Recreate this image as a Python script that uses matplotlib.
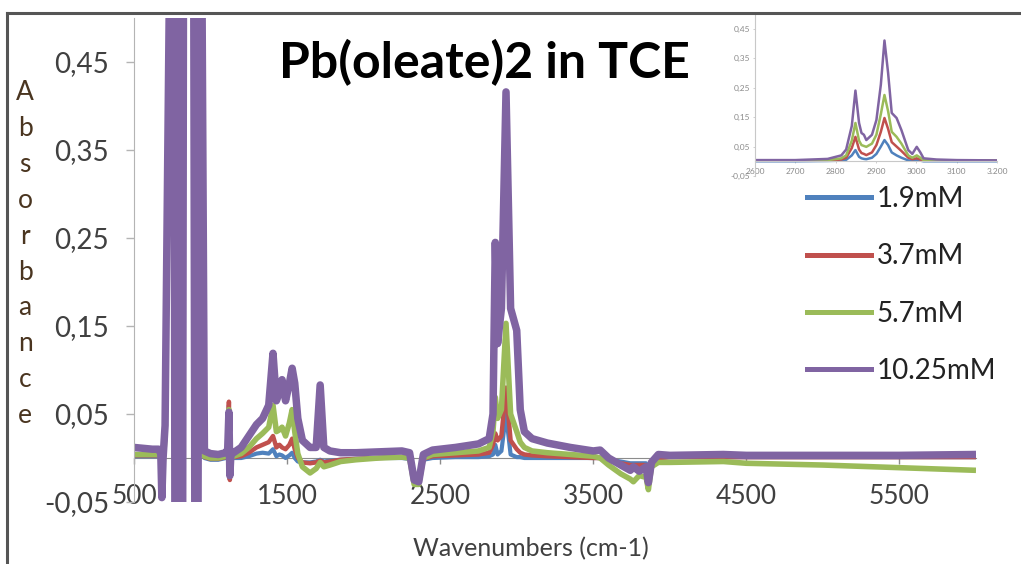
import numpy as np
import matplotlib.pyplot as plt
from matplotlib.lines import Line2D
from matplotlib.ticker import FuncFormatter, FixedLocator

plt.rcParams['font.family'] = ['Lato', 'DejaVu Sans']

labels = ["1.9mM", "3.7mM", "5.7mM", "10.25mM"]
colors = ["#4f81bd", "#c0504d", "#9bbb59", "#8064a2"]

# main spectrum, saturated TCE bands around 720-950 cm-1
wn = [500, 560, 620, 660, 675, 682, 690, 703, 758, 775, 792, 810, 827, 885, 908, 930,
      960, 1000, 1050, 1100, 1112, 1120, 1126, 1134, 1150, 1200, 1250, 1300, 1340, 1380,
      1408, 1430, 1450, 1467, 1490, 1515, 1533, 1550, 1570, 1600, 1650, 1690, 1716, 1740,
      1780, 1850, 1950, 2100, 2250, 2300, 2330, 2360, 2390, 2450, 2600, 2750, 2820, 2845,
      2860, 2875, 2900, 2930, 2960, 3000, 3023, 3050, 3100, 3200, 3350, 3500, 3545, 3600,
      3680, 3742, 3762, 3800, 3845, 3860, 3880, 3925, 4000, 4350, 4500, 5000, 5500, 6000]

a_19 = [0.002, 0.002, 0.002, 0.002, 0.0, -0.03, -0.005, 0.02, 1, -1, 1, -1, 1, 1, -1, 1,
        0.0, -0.002, -0.002, 0.0, 0.004, 0.060, -0.024, 0.0, 0.0, 0.0, 0.002, 0.005, 0.006, 0.005,
        0.010, 0.002, 0.004, 0.003, 0.0, 0.003, 0.006, 0.0, -0.004, -0.005, -0.005, -0.004, -0.002, -0.004,
        -0.003, -0.002, -0.001, 0.0, 0.0, -0.001, -0.027, -0.027, -0.002, 0.0, 0.001, 0.001, 0.002, 0.004,
        0.015, 0.004, 0.008, 0.050, 0.004, 0.001, 0.001, 0.0, 0.0, 0.0, 0.0, 0.0, 0.0, -0.002,
        -0.004, -0.006, -0.006, -0.006, -0.006, -0.012, -0.003, 0.0, 0.001, 0.001, 0.001, 0.001, 0.001, 0.001]

a_37 = [0.003, 0.003, 0.003, 0.003, 0.0, -0.032, -0.005, 0.022, 1, -1, 1, -1, 1, 1, -1, 1,
        0.001, -0.001, -0.001, 0.001, 0.006, 0.064, -0.025, 0.001, 0.001, 0.002, 0.006, 0.012, 0.015, 0.018,
        0.025, 0.012, 0.015, 0.012, 0.010, 0.015, 0.022, 0.010, 0.0, -0.005, -0.006, -0.005, -0.003, -0.005,
        -0.004, -0.002, -0.001, 0.0, 0.001, 0.0, -0.027, -0.027, -0.001, 0.002, 0.003, 0.004, 0.006, 0.015,
        0.028, 0.020, 0.025, 0.080, 0.020, 0.010, 0.006, 0.004, 0.003, 0.002, 0.001, 0.0, 0.0, -0.003,
        -0.006, -0.008, -0.008, -0.008, -0.008, -0.015, -0.004, 0.0, 0.001, 0.001, 0.001, 0.001, 0.001, 0.001]

a_57 = [0.004, 0.004, 0.004, 0.004, 0.0, -0.045, -0.005, 0.025, 1, -1, 1, -1, 1, 1, -1, 1,
        0.002, 0.0, 0.0, 0.002, 0.006, 0.055, -0.020, 0.002, 0.002, 0.005, 0.012, 0.022, 0.028, 0.035,
        0.060, 0.030, 0.032, 0.035, 0.025, 0.040, 0.055, 0.030, 0.005, -0.010, -0.017, -0.012, -0.005, -0.010,
        -0.008, -0.004, -0.002, 0.0, 0.001, 0.0, -0.030, -0.030, 0.0, 0.004, 0.006, 0.008, 0.012, 0.030,
        0.069, 0.045, 0.055, 0.153, 0.050, 0.030, 0.018, 0.012, 0.008, 0.006, 0.004, 0.002, 0.0, -0.008,
        -0.018, -0.024, -0.027, -0.020, -0.022, -0.036, -0.010, -0.005, -0.005, -0.004, -0.006, -0.008, -0.011, -0.014]

a_1025 = [0.012, 0.011, 0.010, 0.010, 0.005, -0.045, 0.0, 0.037, 1, -1, 1, -1, 1, 1, -1, 1,
          0.008, 0.005, 0.004, 0.006, 0.010, 0.052, -0.020, 0.008, 0.006, 0.012, 0.025, 0.038, 0.045, 0.060,
          0.119, 0.065, 0.075, 0.089, 0.065, 0.085, 0.102, 0.085, 0.045, 0.020, 0.012, 0.012, 0.083, 0.012,
          0.008, 0.006, 0.006, 0.007, 0.008, 0.006, -0.025, -0.027, 0.004, 0.009, 0.012, 0.016, 0.022, 0.050,
          0.245, 0.130, 0.170, 0.416, 0.170, 0.145, 0.055, 0.030, 0.022, 0.017, 0.012, 0.008, 0.009, 0.0,
          -0.008, -0.014, -0.010, -0.015, -0.010, -0.028, -0.005, 0.004, 0.003, 0.004, 0.003, 0.003, 0.003, 0.004]

# inset: C-H stretch region
wn_in = [2600, 2700, 2780, 2814, 2826, 2840, 2849, 2858, 2864, 2870, 2876, 2890, 2901, 2912,
         2921, 2930, 2939, 2951, 2963, 2980, 2990, 3001, 3010, 3018, 3050, 3100, 3200]
in_19 = [0.0, 0.0, 0.001, 0.002, 0.005, 0.02, 0.038, 0.015, 0.01, 0.008, 0.007, 0.012, 0.025, 0.05,
         0.072, 0.055, 0.03, 0.02, 0.012, 0.003, 0.002, 0.004, 0.002, 0.0, 0.0, 0.0, 0.0]
in_37 = [0.002, 0.002, 0.003, 0.006, 0.012, 0.045, 0.083, 0.04, 0.028, 0.025, 0.021, 0.03, 0.055, 0.10,
         0.147, 0.11, 0.065, 0.05, 0.035, 0.012, 0.007, 0.01, 0.006, 0.003, 0.002, 0.002, 0.002]
in_57 = [0.002, 0.002, 0.004, 0.01, 0.02, 0.07, 0.13, 0.07, 0.055, 0.052, 0.049, 0.06, 0.09, 0.16,
         0.225, 0.17, 0.1, 0.083, 0.06, 0.02, 0.012, 0.02, 0.012, 0.004, 0.003, 0.002, 0.002]
in_1025 = [0.004, 0.004, 0.008, 0.02, 0.04, 0.12, 0.24, 0.13, 0.096, 0.09, 0.072, 0.09, 0.14, 0.26,
           0.41, 0.30, 0.164, 0.147, 0.106, 0.038, 0.025, 0.049, 0.03, 0.01, 0.006, 0.004, 0.003]

main_series = [a_19, a_37, a_57, a_1025]
inset_series = [in_19, in_37, in_57, in_1025]

W, H = 1021, 564
fig = plt.figure(figsize=(W / 100, H / 100), dpi=100)

def fx(px):
    return px / W

def fy(py):
    return 1 - py / H

# main axes
ax = fig.add_axes([fx(134), fy(502), fx(976) - fx(134), fy(18) - fy(502)])
widths = [3.0, 3.2, 4.0, 5.4]
for ys, c, lw in zip(main_series, colors, widths):
    ax.plot(wn, ys, color=c, lw=lw, solid_joinstyle='round', solid_capstyle='butt')

ax.set_xlim(500, 6000)
ax.set_ylim(-0.05, 0.5)
ax.spines['top'].set_visible(False)
ax.spines['right'].set_visible(False)
ax.spines['bottom'].set_position(('data', 0))
ax.spines['bottom'].set_color('#8c8c8c')
ax.spines['left'].set_color('#b4b4b4')
ax.spines['bottom'].set_zorder(0)

ax.xaxis.set_major_locator(FixedLocator([500, 1500, 2500, 3500, 4500, 5500]))
ax.yaxis.set_major_locator(FixedLocator([-0.05, 0.05, 0.15, 0.25, 0.35, 0.45]))
ax.yaxis.set_major_formatter(FuncFormatter(lambda v, p: f"{v:.2f}".replace('.', ',')))
ax.tick_params(axis='y', direction='out', length=6, width=1, color='#b4b4b4',
               labelsize=20, labelcolor='#404040', pad=12)
ax.tick_params(axis='x', direction='out', length=4, width=1, color='#8c8c8c',
               labelsize=19, labelcolor='#404040', pad=15)

ax.set_xlabel("Wavenumbers (cm-1)", fontsize=18, color='#404040', va='center')
ax.xaxis.set_label_coords((531 - 134) / (976 - 134), (502 - 549) / (502 - 18))

# stacked y label
for i, ch in enumerate("Absorbance"):
    fig.text(fx(25), fy(93 + i * 35.8), ch, fontsize=19, color='#4a3520',
             ha='center', va='center')

fig.text(fx(484), fy(63), "Pb(oleate)2 in TCE", fontsize=36, fontweight='bold',
         color='black', ha='center', va='center')

handles = [Line2D([], [], color=c, lw=3.6) for c in colors]
fig.legend(handles, labels, loc='upper left', bbox_to_anchor=(fx(807), fy(186)),
           frameon=False, fontsize=20, handlelength=2.3, handletextpad=0.2,
           labelspacing=1.13, borderpad=0, borderaxespad=0, labelcolor='#222222')

# inset
axi = fig.add_axes([fx(755), fy(176), fx(997) - fx(755), fy(14) - fy(176)])
for ys, c in zip(inset_series, colors):
    axi.plot(wn_in, ys, color=c, lw=1.8)
axi.set_xlim(2600, 3200)
axi.set_ylim(-0.05, 0.5)
axi.set_facecolor('none')
axi.spines['top'].set_visible(False)
axi.spines['right'].set_visible(False)
axi.spines['bottom'].set_position(('data', 0))
axi.spines['bottom'].set_color('#c8c8c8')
axi.spines['left'].set_color('#c8c8c8')
axi.xaxis.set_major_locator(FixedLocator([2600, 2700, 2800, 2900, 3000, 3100, 3200]))
axi.xaxis.set_major_formatter(FuncFormatter(lambda v, p: f"{v:,.0f}".replace(',', '.') if v == 3200 else f"{v:.0f}"))
axi.yaxis.set_major_locator(FixedLocator([-0.05, 0.05, 0.15, 0.25, 0.35, 0.45]))
axi.yaxis.set_major_formatter(FuncFormatter(lambda v, p: f"{v:.2f}".replace('.', ',')))
axi.tick_params(axis='both', length=1.5, width=0.6, color='#c8c8c8', labelsize=6,
                labelcolor='#8a8a8a', pad=2)
axi.tick_params(axis='x', pad=3)

# outer frame of the screenshot
fig.add_artist(Line2D([fx(7), 1.0], [fy(13), fy(13)], color='#555555', lw=2.2))
fig.add_artist(Line2D([fx(7), fx(7)], [fy(13), 0.0], color='#555555', lw=2.2))

fig.savefig("out.png", dpi=100)
